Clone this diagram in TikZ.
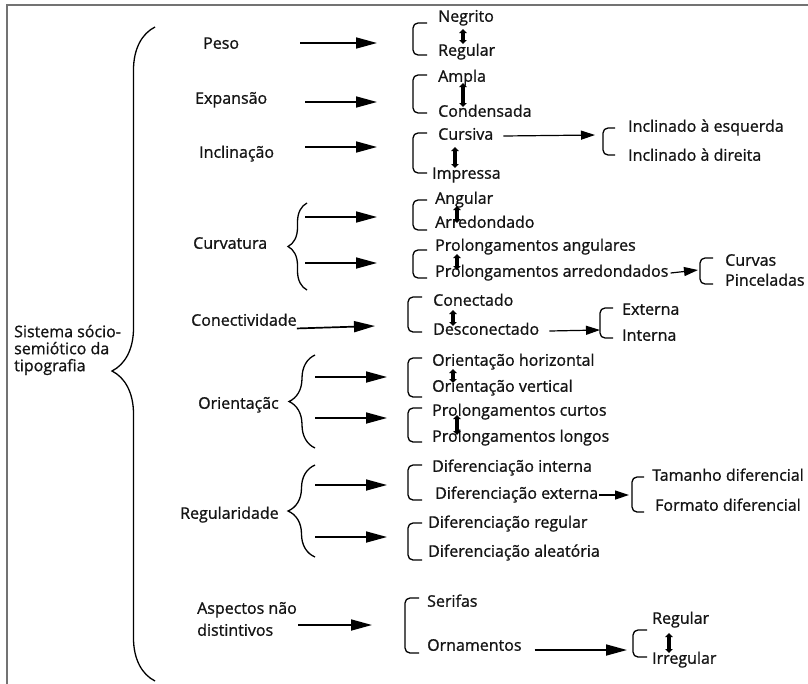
\documentclass[tikz,border=0pt]{standalone}
\usepackage{fontspec}
\setmainfont{Open Sans}
\newfontfamily\diagfont{Open Sans}[FakeBold=1.0]
\usepackage{xcolor}
\colorlet{colorText}{black!92}
\colorlet{colorFrame}{black!55}
\colorlet{colorLine}{black}
\usetikzlibrary{arrows.meta, calc, decorations.pathreplacing}
\tikzset{
  item/.style={anchor=west, inner sep=0pt, text height=11pt, text depth=3.5pt, text=colorText, font=\diagfont\fontsize{16}{17}\selectfont},
  multiitem/.style={anchor=west, inner sep=0pt, align=left, text=colorText, font=\diagfont\fontsize{16}{17}\selectfont},
  bigarrow/.style={-{Triangle[length=21pt,width=11pt]}, line width=1.7pt, colorLine},
  smallarrow/.style={-{Triangle[length=14pt,width=9pt]}, line width=1.2pt, colorLine},
  dblarrow/.style={{Triangle[length=4pt,width=7.5pt]}-{Triangle[length=4pt,width=7.5pt]}, line width=3.4pt, colorLine},
  bracket/.style={line width=1.3pt, rounded corners=5pt, colorLine},
  curly/.style={line width=1.3pt, colorLine, decorate, decoration={brace, amplitude=#1}},
}

\begin{document}
\begin{tikzpicture}[x=1pt, y=-1pt]
\useasboundingbox (0,0) rectangle (808,683);
\draw[colorFrame, line width=2pt] (7,700) -- (7,5) -- (830,5);

% root and big brace
\node[multiitem] (root) at (14,350) {Sistema sócio-\\semiótico da\\tipografia};
\draw[line width=1.3pt, colorLine, decorate, decoration={brace, amplitude=43pt, aspect=0.474}] (155,681) -- (155,27);

% first level
\node[item] (peso) at (203,45) {Peso};
\node[item] (expansao) at (195,100) {Expansão};
\node[item] (inclinacao) at (199,154) {Inclinação};
\node[item] (curvatura) at (193,245) {Curvatura};
\node[item] (conectividade) at (191,322) {Conectividade};
\node[item] (orientacao) at (198,405) {Orientaçãc};
\node[item] (regularidade) at (180,515) {Regularidade};
\node[multiitem, font=\diagfont\fontsize{16}{22}\selectfont] (aspectos) at (197,619) {Aspectos não\\distintivos};

\draw[curly=19pt] (307,290) -- (307,203);
\draw[curly=26pt] (315,448) -- (315,355);
\draw[curly=27pt] (315,557) -- (315,465);

% arrow ends
\coordinate (pesoA) at (300,43);       \coordinate (pesoB) at (377,43);
\coordinate (expA) at (305,102);       \coordinate (expB) at (377,102);
\coordinate (inclA) at (305,147);      \coordinate (inclB) at (377,147);
\coordinate (curvA) at (305,217);      \coordinate (curvB) at (377,217);
\coordinate (curvC) at (305,263);      \coordinate (curvD) at (377,263);
\coordinate (conB) at (375,326);
\coordinate (oriA) at (315,377);       \coordinate (oriB) at (387,377);
\coordinate (oriC) at (315,418);       \coordinate (oriD) at (387,418);
\coordinate (regA) at (315,485);       \coordinate (regB) at (387,485);
\coordinate (regC) at (315,537);       \coordinate (regD) at (387,537);
\coordinate (aspA) at (298,625);       \coordinate (aspB) at (372,625);

\draw[bigarrow] (pesoA) -- (pesoB);
\draw[bigarrow] (expA) -- (expB);
\draw[bigarrow] (inclA) -- (inclB);
\draw[bigarrow] (curvA) -- (curvB);
\draw[bigarrow] (curvC) -- (curvD);
\draw[bigarrow] (conectividade.south east) ++(0,-1) -- (conB);
\draw[bigarrow] (oriA) -- (oriB);
\draw[bigarrow] (oriC) -- (oriD);
\draw[bigarrow] (regA) -- (regB);
\draw[bigarrow] (regC) -- (regD);
\draw[bigarrow] (aspA) -- (aspB);

% second level
\node[item] (negrito) at (438,18) {Negrito};
\node[item] (regularA) at (438,52) {Regular};
\node[item] (ampla) at (438,78) {Ampla};
\node[item] (condensada) at (438,113) {Condensada};
\node[item] (cursiva) at (438,136) {Cursiva};
\node[item] (impressa) at (432,175) {Impressa};
\node[item] (angular) at (435,200) {Angular};
\node[item] (arredondado) at (435,224) {Arredondado};
\node[item] (prolAng) at (435,247) {Prolongamentos angulares};
\node[item] (prolArr) at (435,273) {Prolongamentos arredondados};
\node[item] (conectado) at (433,302) {Conectado};
\node[item] (desconectado) at (433,331) {Desconectado};
\node[item] (oriHor) at (432,362) {Orientação horizontal};
\node[item] (oriVert) at (432,388) {Orientação vertical};
\node[item] (prolCurtos) at (432,412) {Prolongamentos curtos};
\node[item] (prolLongos) at (432,438) {Prolongamentos longos};
\node[item] (difInt) at (432,468) {Diferenciação interna};
\node[item] (difExt) at (435,495) {Diferenciação externa};
\node[item] (difReg) at (428,524) {Diferenciação regular};
\node[item] (difAlea) at (428,553) {Diferenciação aleatória};
\node[item] (serifas) at (427,603) {Serifas};
\node[item] (ornamentos) at (427,647) {Ornamentos};

\draw[bracket] (427,23) -- (413,23) -- (413,55) -- (427,55);
\draw[bracket] (427,75) -- (413,75) -- (413,113) -- (427,113);
\draw[bracket] (427,133) -- (413,133) -- (413,173) -- (427,173);
\draw[bracket] (427,200) -- (413,200) -- (413,230) -- (427,230);
\draw[bracket] (427,250) -- (413,250) -- (413,278) -- (427,278);
\draw[bracket] (422,297) -- (408,297) -- (408,332) -- (422,332);
\draw[bracket] (422,358) -- (408,358) -- (408,397) -- (422,397);
\draw[bracket] (422,408) -- (408,408) -- (408,442) -- (422,442);
\draw[bracket] (422,465) -- (408,465) -- (408,500) -- (422,500);
\draw[bracket] (422,523) -- (408,523) -- (408,560) -- (422,560);
\draw[bracket] (419,598) -- (405,598) -- (405,653) -- (419,653);

\draw[dblarrow] ($(negrito.west)+(25,11)$) -- ($(regularA.west)+(25,-8)$);
\draw[dblarrow] ($(ampla.west)+(25,5)$) -- ($(condensada.west)+(25,-6)$);
\draw[dblarrow] ($(cursiva.west)+(17,11)$) -- ($(impressa.west)+(23,-7)$);
\draw[dblarrow] ($(angular.west)+(22,6)$) -- ($(arredondado.west)+(22,-1)$);
\draw[dblarrow] ($(prolAng.west)+(22,7)$) -- ($(prolArr.west)+(22,-3)$);
\draw[dblarrow] ($(conectado.west)+(20,8)$) -- ($(desconectado.west)+(20,-5)$);
\draw[dblarrow] ($(oriHor.west)+(21,7)$) -- ($(oriVert.west)+(21,-5)$);
\draw[dblarrow] ($(prolCurtos.west)+(25,3)$) -- ($(prolLongos.west)+(25,-3)$);

% third level
\node[item] (inclEsq) at (628,128) {Inclinado à esquerda};
\node[item] (inclDir) at (628,157) {Inclinado à direita};
\node[item] (curvas) at (725,262) {Curvas};
\node[item] (pinceladas) at (725,282) {Pinceladas};
\node[item] (externa) at (622,311) {Externa};
\node[item] (interna) at (622,337) {Interna};
\node[item] (tamanho) at (652,477) {Tamanho diferencial};
\node[item] (formato) at (655,507) {Formato diferencial};
\node[item] (regularB) at (652,620) {Regular};
\node[item] (irregular) at (652,660) {Irregular};

\coordinate (cursB) at (595,135);
\coordinate (arrB) at (698,270);
\coordinate (desB) at (600,330);
\coordinate (extB) at (629,495);
\coordinate (ornB) at (627,650);

\draw[smallarrow] (cursiva.east) ++(10,0) -- (cursB);
\draw[smallarrow] (prolArr.east) ++(2,0) -- (arrB);
\draw[smallarrow] (desconectado.east) ++(10,0) -- (desB);
\draw[smallarrow] (difExt.east) ++(1,0) -- (extB);
\draw[bigarrow] (ornamentos.east) ++(13,3) -- (ornB);

\draw[bracket] (615,128) -- (603,128) -- (603,155) -- (615,155);
\draw[bracket] (713,258) -- (700,258) -- (700,284) -- (713,284);
\draw[bracket] (613,308) -- (600,308) -- (600,338) -- (613,338);
\draw[bracket] (644,477) -- (632,477) -- (632,512) -- (644,512);
\draw[bracket] (647,630) -- (633,630) -- (633,657) -- (647,657);

\draw[dblarrow] ($(regularB.west)+(17,13)$) -- ($(irregular.west)+(17,-7)$);
\end{tikzpicture}
\end{document}
